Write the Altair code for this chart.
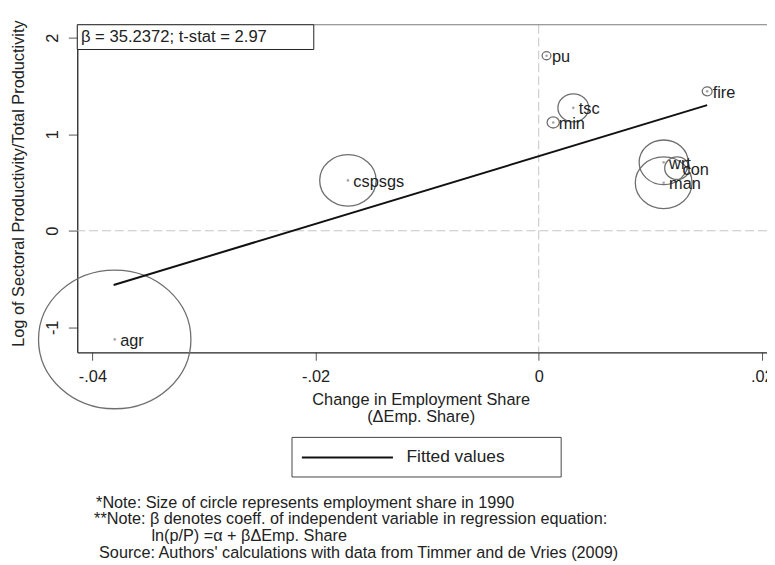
import altair as alt
import pandas as pd

# ---------------- data ----------------
sectors = ["agr", "cspsgs", "pu", "min", "tsc", "fire", "man", "wrt", "con"]
emp_change = [-0.0380, -0.0171, 0.0007, 0.0013, 0.0031, 0.0151, 0.0112, 0.0112, 0.0124]
log_rel_prod = [-1.125, 0.522, 1.813, 1.122, 1.273, 1.444, 0.497, 0.709, 0.648]
emp_share_1990 = [68.5, 9.4, 0.23, 0.44, 2.8, 0.29, 9.5, 7.1, 1.8]

fit_x = [-0.0381, 0.0151]
fit_y = [-0.562, 1.301]

x_ticks = [-0.04, -0.02, 0, 0.02]
x_tick_labels = ["-.04", "-.02", "0", ".02"]
y_ticks = [-1, 0, 1, 2]
y_tick_labels = ["-1", "0", "1", "2"]

beta_text = "β =  35.2372; t-stat = 2.97"
legend_label = "Fitted values"
notes = [
    "*Note: Size of circle represents employment share in 1990",
    "**Note: β denotes coeff. of independent variable in regression equation:",
    "ln(p/P) =α + βΔEmp. Share",
    " Source: Authors' calculations with data from Timmer and de Vries (2009)",
]

# ---------------- layout / style ----------------
W, H = 697, 331
X_DOMAIN = [-0.041357, 0.020461]
Y_DOMAIN = [-1.2586, 2.1339]
FONT = "Liberation Sans"
TXT = "#222222"
ELLIPSE = "M-1,0A1,0.91,0,1,1,1,0A1,0.91,0,1,1,-1,0Z"

df = pd.DataFrame({
    "sector": sectors,
    "emp_change": emp_change,
    "log_rel_prod": log_rel_prod,
    "emp_share_1990": emp_share_1990,
})
fit = pd.DataFrame({"emp_change": fit_x, "log_rel_prod": fit_y})
one = pd.DataFrame({"k": [0]})


def label_expr(vals, labs):
    parts = [f"abs(datum.value - ({v})) < 1e-9 ? '{l}'" for v, l in zip(vals, labs)]
    return " : ".join(parts) + " : ''"


xs = alt.Scale(domain=X_DOMAIN, nice=False, zero=False)
ys = alt.Scale(domain=Y_DOMAIN, nice=False, zero=False)

x_axis = alt.Axis(
    values=x_ticks, labelExpr=label_expr(x_ticks, x_tick_labels),
    grid=False, tickSize=8, tickColor="#555555", domainColor="#222222", domainWidth=1.3,
    labelFont=FONT, labelFontSize=16.5, labelColor=TXT, labelPadding=16.5,
    labelBaseline="middle", labelAlign="center",
    labelFlush=False, labelOverlap=False, labelBound=False,
    title=["Change in Employment Share", "(ΔEmp. Share)"],
    titleFont=FONT, titleFontSize=16.5, titleFontWeight="normal", titleColor=TXT,
    titleX=347, titleY=48, titleAlign="center", titleBaseline="middle",
    titleLineHeight=16.5,
)
y_axis = alt.Axis(
    values=y_ticks, labelExpr=label_expr(y_ticks, y_tick_labels),
    grid=False, tickSize=9, tickColor="#555555", domainColor="#222222", domainWidth=1.3,
    labelFont=FONT, labelFontSize=16.5, labelColor=TXT, labelAngle=270,
    labelAlign="center", labelBaseline="middle", labelPadding=16,
    labelFlush=False, labelOverlap=False, labelBound=False,
    title="Log of Sectoral Productivity/Total Productivity",
    titleFont=FONT, titleFontSize=16.5, titleFontWeight="normal", titleColor=TXT,
    titleX=-59, titleY=160, titleAngle=270, titleAlign="center", titleBaseline="middle",
)


def X(f):
    return alt.X(f"{f}:Q", scale=xs, axis=x_axis)


def Y(f):
    return alt.Y(f"{f}:Q", scale=ys, axis=y_axis)


zeros = pd.DataFrame({"emp_change": [0.0], "log_rel_prod": [0.0]})
vref = alt.Chart(zeros).mark_rule(color="#c4c4c4", strokeDash=[9, 4], strokeWidth=1).encode(x=X("emp_change"))
href = alt.Chart(zeros).mark_rule(color="#c4c4c4", strokeDash=[9, 4], strokeWidth=1).encode(y=Y("log_rel_prod"))
top_border = alt.Chart(pd.DataFrame({"log_rel_prod": [Y_DOMAIN[1]]})).mark_rule(
    color="#7a7a7a", strokeWidth=1).encode(y=Y("log_rel_prod"))

base = alt.Chart(df)
bubbles = base.mark_point(shape=ELLIPSE, filled=False, color="#6e6e6e", strokeWidth=1.3, opacity=1).encode(
    x=X("emp_change"), y=Y("log_rel_prod"),
    size=alt.Size("emp_share_1990:Q", scale=alt.Scale(domain=[0, max(emp_share_1990)], range=[0, 154 ** 2]),
                  legend=None),
)
dots = base.mark_circle(size=7, color="#a6a6a6", opacity=1).encode(x=X("emp_change"), y=Y("log_rel_prod"))
labels = base.mark_text(align="left", baseline="middle", dx=5.5, dy=1.5, font=FONT, fontSize=16.5, color=TXT).encode(
    x=X("emp_change"), y=Y("log_rel_prod"), text="sector:N")
fit_line = alt.Chart(fit).mark_line(color="#111111", strokeWidth=2).encode(x=X("emp_change"), y=Y("log_rel_prod"))

# annotation box with regression statistics
beta_box = alt.Chart(one).mark_rect(fill="white", stroke="#222222", strokeWidth=1).encode(
    x=alt.value(0), x2=alt.value(239), y=alt.value(0), y2=alt.value(25))
beta_lbl = alt.Chart(one).mark_text(text=beta_text, align="left", baseline="middle", font=FONT,
                                    fontSize=16.8, color=TXT).encode(x=alt.value(3.7), y=alt.value(12.5))

# legend
leg_box = alt.Chart(one).mark_rect(fill="white", stroke="#444444", strokeWidth=1).encode(
    x=alt.value(217), x2=alt.value(489), y=alt.value(417), y2=alt.value(457))
leg_line = alt.Chart(one).mark_rule(color="#111111", strokeWidth=2).encode(
    x=alt.value(227), x2=alt.value(319), y=alt.value(437.3))
leg_text = alt.Chart(one).mark_text(text=legend_label, align="left", baseline="middle", font=FONT,
                                    fontSize=17.5, color=TXT).encode(x=alt.value(332.7), y=alt.value(437))

note_x = [19, 17, 75, 22]
note_y = [483, 500, 517, 534]
note_layers = [
    alt.Chart(one).mark_text(text=t, align="left", baseline="middle", font=FONT, fontSize=16.4, color=TXT)
    .encode(x=alt.value(nx), y=alt.value(ny))
    for t, nx, ny in zip(notes, note_x, note_y)
]

chart = alt.layer(
    vref, href, top_border, bubbles, dots, labels, fit_line, beta_box, beta_lbl,
    leg_box, leg_line, leg_text, *note_layers
).properties(
    width=W, height=H,
    autosize=alt.AutoSizeParams(type="none"),
    padding={"left": 70, "top": 14, "right": 0, "bottom": 210},
    background="white",
).configure_view(stroke=None)

chart.save("out.html", embed_options={"renderer": "svg", "actions": False})
